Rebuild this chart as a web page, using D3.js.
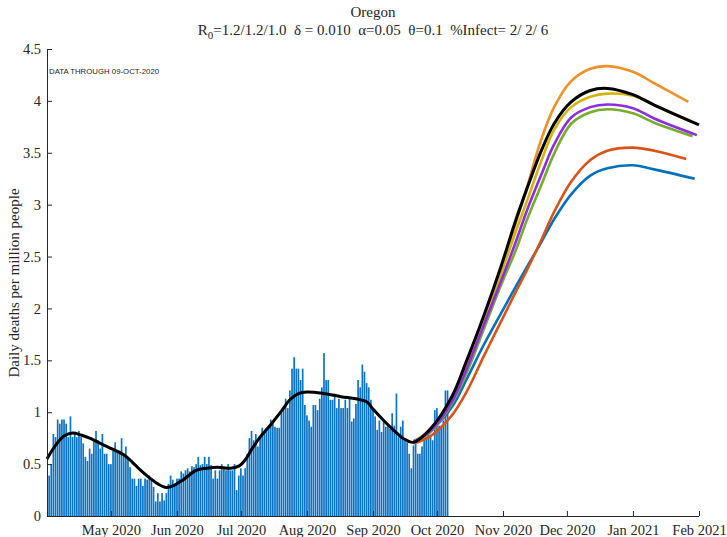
<!DOCTYPE html>
<html lang="en">
<head>
<meta charset="utf-8">
<script src="https://d3js.org/d3.v7.min.js"></script>
<style>
  body { margin: 0; background: #fff; }
  text { fill: #262626; }
</style>
</head>
<body>
<svg id="chart" width="727" height="537"></svg>
<script>
// daily deaths per million, one bar per day starting 1 Apr 2020
const barStart = "2020-04-01";
const deaths = [
  0.39,0.39,0.50,0.79,0.76,0.93,0.89,0.93,0.93,0.89,
  0.76,0.96,0.76,0.79,0.76,0.82,0.76,0.70,0.57,0.53,
  0.65,0.60,0.73,0.82,0.73,0.65,0.79,0.60,0.60,0.50,
  0.50,0.63,0.71,0.63,0.63,0.75,0.60,0.67,0.57,0.47,
  0.36,0.36,0.29,0.36,0.36,0.29,0.36,0.35,0.39,0.35,
  0.28,0.14,0.22,0.14,0.22,0.15,0.22,0.31,0.39,0.35,
  0.30,0.36,0.36,0.43,0.41,0.44,0.46,0.43,0.48,0.47,
  0.50,0.57,0.49,0.50,0.57,0.50,0.57,0.49,0.36,0.44,
  0.36,0.44,0.50,0.46,0.44,0.50,0.44,0.44,0.50,0.25,
  0.39,0.46,0.39,0.46,0.60,0.75,0.82,0.73,0.79,0.67,
  0.76,0.85,0.81,0.85,0.87,0.93,0.89,0.86,0.85,0.85,
  0.99,1.04,1.13,1.04,1.21,1.42,1.53,1.42,1.42,1.31,
  1.42,1.07,0.97,0.92,0.86,1.07,1.07,1.02,1.13,1.24,
  1.57,1.31,1.31,1.12,1.12,1.18,1.04,1.13,1.04,1.04,
  1.12,1.04,1.13,0.91,0.94,1.08,1.31,1.24,1.46,1.39,
  1.28,1.24,1.12,1.04,0.96,0.83,0.92,0.81,0.93,0.86,
  0.89,0.84,0.99,0.87,1.18,0.76,0.86,0.92,0.73,0.71,
  0.60,0.46,0.68,0.73,0.60,0.60,0.67,0.73,0.76,0.82,
  0.76,0.73,1.02,1.04,0.87,0.87,0.92,1.21,1.21
];

// smoothed fit over the data period (black)
const fitDates = [
  "2020-04-01","2020-04-05","2020-04-09","2020-04-13","2020-04-17","2020-04-21",
  "2020-04-29","2020-05-07","2020-05-11","2020-05-15","2020-05-19","2020-05-23",
  "2020-05-27","2020-05-31","2020-06-04","2020-06-10","2020-06-15","2020-06-20",
  "2020-06-26","2020-06-30","2020-07-03","2020-07-06","2020-07-10","2020-07-15",
  "2020-07-20","2020-07-24","2020-07-28","2020-08-01","2020-08-09","2020-08-17",
  "2020-08-24","2020-08-29","2020-09-01","2020-09-06","2020-09-11","2020-09-15"
];
const fitValues = [
  0.55,0.68,0.77,0.80,0.78,0.75,
  0.67,0.59,0.52,0.44,0.37,0.31,
  0.275,0.30,0.35,0.44,0.46,0.47,
  0.46,0.48,0.54,0.64,0.76,0.88,
  1.01,1.12,1.18,1.195,1.18,1.15,
  1.13,1.10,1.03,0.92,0.82,0.75
];

// projection sample dates, shared by all scenarios
const projDates = [
  "2020-09-20","2020-09-28","2020-10-08","2020-10-15","2020-10-23","2020-10-31",
  "2020-11-07","2020-11-12","2020-11-19","2020-11-25","2020-12-03","2020-12-12",
  "2020-12-20","2021-01-01","2021-01-11"
];
const projBlack  = [0.71,0.84,1.15,1.50,1.93,2.40,2.85,3.14,3.52,3.78,3.99,4.10,4.12,4.06,3.96];
const projOrange = [0.71,0.84,1.14,1.48,1.91,2.38,2.82,3.15,3.63,3.94,4.19,4.31,4.335,4.28,4.17];
const projYellow = [0.71,0.83,1.12,1.45,1.88,2.33,2.74,3.02,3.42,3.72,3.94,4.04,4.07,4.05,3.96];
const projPurple = [0.71,0.82,1.10,1.42,1.84,2.26,2.64,2.93,3.29,3.58,3.84,3.94,3.965,3.93,3.83];
const projGreen  = [0.71,0.81,1.08,1.38,1.80,2.22,2.56,2.84,3.19,3.49,3.78,3.89,3.92,3.88,3.79];
const projRed    = [0.70,0.77,0.97,1.20,1.54,1.87,2.16,2.36,2.66,2.93,3.22,3.43,3.52,3.55,3.52];
const projBlue   = [0.72,0.82,1.05,1.32,1.65,1.95,2.21,2.39,2.64,2.86,3.10,3.28,3.35,3.38,3.34];

// last point of each scenario
const endDates  = { black: "2021-02-01", orange: "2021-01-27", yellow: "2021-01-28", purple: "2021-01-31",
                    green: "2021-01-29", red: "2021-01-26", blue: "2021-01-30" };
const endValues = { black: 3.77, orange: 3.99, yellow: 3.80, purple: 3.67, green: 3.66, red: 3.44, blue: 3.25 };

const monthTicks = ["2020-05-01","2020-06-01","2020-07-01","2020-08-01","2020-09-01",
                    "2020-10-01","2020-11-01","2020-12-01","2021-01-01","2021-02-01"];
const yTicks = [0,0.5,1,1.5,2,2.5,3,3.5,4,4.5];

const parse = d3.timeParse("%Y-%m-%d");
const svg = d3.select("#chart");

const plotLeft = 47, plotRight = 699, plotTop = 49, plotBottom = 516;

const x = d3.scaleTime()
  .domain([parse("2020-04-01"), parse("2021-02-01")])
  .range([plotLeft, plotRight]);
const y = d3.scaleLinear().domain([0, 4.5]).range([plotBottom, plotTop]);

svg.append("defs").append("clipPath").attr("id", "plotclip")
  .append("rect").attr("x", plotLeft).attr("y", 0).attr("width", 727 - plotLeft).attr("height", plotBottom);

// bars
const start = parse(barStart);
const bars = deaths.map((v, i) => ({ date: d3.timeDay.offset(start, i), v: v }));
const bw = 1.7;
svg.append("g").attr("clip-path", "url(#plotclip)")
  .selectAll("rect").data(bars).join("rect")
  .attr("x", d => x(d.date) - bw / 2)
  .attr("width", bw)
  .attr("y", d => y(d.v))
  .attr("height", d => y(0) - y(d.v))
  .attr("fill", "#0b74c4");

const line = d3.line()
  .x(d => x(d[0]))
  .y(d => y(d[1]))
  .curve(d3.curveCatmullRom.alpha(0.5));

function series(vals, key) {
  const pts = projDates.map((d, i) => [parse(d), vals[i]]);
  pts.push([parse(endDates[key]), endValues[key]]);
  return pts;
}

const scenarios = [
  { key: "blue",   vals: projBlue,   color: "#0072BD" },
  { key: "red",    vals: projRed,    color: "#D95319" },
  { key: "orange", vals: projOrange, color: "#EE9127" },
  { key: "yellow", vals: projYellow, color: "#D2B40C" },
  { key: "green",  vals: projGreen,  color: "#77AC30" },
  { key: "purple", vals: projPurple, color: "#8C2EE0" }
];

scenarios.forEach(s => {
  svg.append("path")
    .attr("d", line(series(s.vals, s.key)))
    .attr("fill", "none")
    .attr("stroke", s.color)
    .attr("stroke-width", 2.6);
});

// black: fit plus its projection
const blackPts = fitDates.map((d, i) => [parse(d), fitValues[i]])
  .concat(series(projBlack, "black"));
svg.append("path")
  .attr("d", line(blackPts))
  .attr("fill", "none")
  .attr("stroke", "#000")
  .attr("stroke-width", 3);

// axes
const axisColor = "#262626";
const xAxis = svg.append("g").attr("transform", `translate(0,${plotBottom})`)
  .call(d3.axisBottom(x)
    .tickValues(monthTicks.map(parse))
    .tickFormat(d3.timeFormat("%b %Y"))
    .tickSizeInner(-5).tickSizeOuter(0).tickPadding(9));
xAxis.select(".domain").attr("d", `M${plotLeft},0.5H${plotRight}`);

const yAxis = svg.append("g").attr("transform", `translate(${plotLeft},0)`)
  .call(d3.axisLeft(y)
    .tickValues(yTicks)
    .tickFormat(d3.format("~g"))
    .tickSizeInner(-5).tickSizeOuter(0).tickPadding(6));

[xAxis, yAxis].forEach(g => {
  g.selectAll("path, line").attr("stroke", axisColor);
  g.selectAll("text")
    .attr("fill", axisColor)
    .style("font-family", "'Liberation Serif', 'Times New Roman', serif")
    .style("font-size", "14.5px");
});

// labels
svg.append("text")
  .attr("transform", "translate(19,283) rotate(-90)")
  .attr("text-anchor", "middle")
  .style("font-family", "'Liberation Serif', serif")
  .style("font-size", "15px")
  .text("Daily deaths per million people");

svg.append("text")
  .attr("x", 373).attr("y", 17)
  .attr("text-anchor", "middle")
  .style("font-family", "'Liberation Serif', serif")
  .style("font-size", "15px")
  .text("Oregon");

const sub = svg.append("text")
  .attr("x", 373).attr("y", 35)
  .attr("text-anchor", "middle")
  .style("font-family", "'Liberation Serif', serif")
  .style("font-size", "15px")
  .style("white-space", "pre");
sub.append("tspan").text("R");
sub.append("tspan").attr("dy", 4).style("font-size", "11px").text("0");
sub.append("tspan").attr("dy", -4).text("=1.2/1.2/1.0  \u03b4 = 0.010  \u03b1=0.05  \u03b8=0.1  %Infect= 2/ 2/ 6");

svg.append("text")
  .attr("x", 49).attr("y", 74)
  .style("font-family", "'Liberation Sans', Arial, sans-serif")
  .style("font-size", "7.8px")
  .text("DATA THROUGH 09-OCT-2020");
</script>
</body>
</html>
